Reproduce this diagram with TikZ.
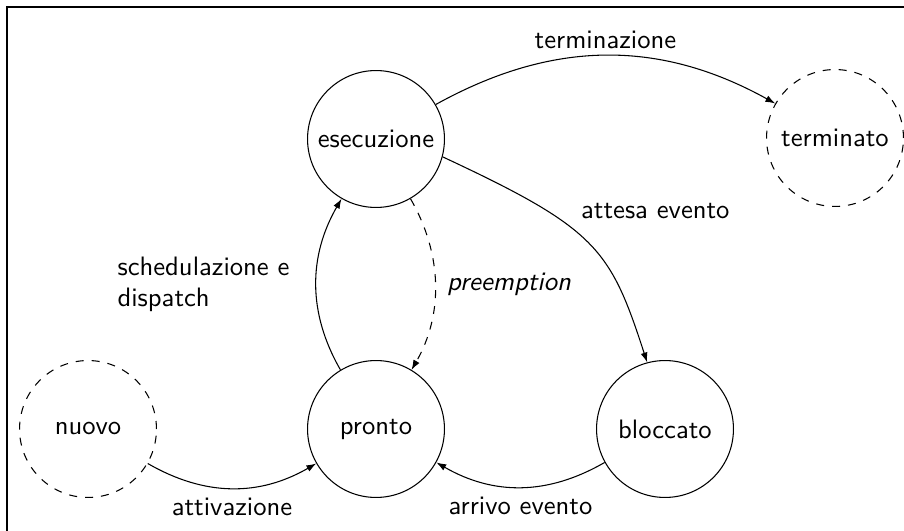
\documentclass[tikz,border=0pt]{standalone}
\usetikzlibrary{arrows.meta}
\begin{document}
\begin{tikzpicture}[x=0.3754pt,y=0.3754pt,font=\sffamily,
  stnode/.style={circle,draw,line width=0.4pt,minimum size=51.4pt,inner sep=0pt},
  ghost/.style={stnode,dashed},
  arr/.style={line width=0.4pt,-{Latex[length=3.7pt,width=2.6pt]}},
  lab/.style={inner sep=3.33pt}]
\useasboundingbox (0,0) rectangle (904,-531);
\coordinate (fa) at (7,-531);
\coordinate (fb) at (7,-7);
\coordinate (fc) at (904,-7);
\draw[line width=0.8pt] (fa) -- (fb) -- (fc);

\node[stnode] (ese) at (376,-139) {esecuzione};
\node[stnode] (pro) at (376,-429) {pronto};
\node[ghost]  (nuo) at (88,-429)  {nuovo};
\node[ghost]  (ter) at (835,-138) {terminato};
\node[stnode] (blo) at (665,-429) {bloccato};

\draw[arr] (nuo.-30) .. controls +(-30:66) and +(210:66) .. (pro.210)
  node[lab,midway,below] (l1) {attivazione};
\draw[arr] (pro.121) .. controls +(120:66) and +(240:66) .. (ese.240)
  node[lab,midway,left=6.5pt,align=left,font=\sffamily\fontsize{10}{11.3}\selectfont] (l2) {schedulazione e\\dispatch};
\draw[arr,dashed] (ese.-60) .. controls +(-60:64) and +(60:64) .. (pro.59)
  node[lab,midway,right=1pt,font=\sffamily\itshape] (l3) {preemption};
\draw[arr] (ese.30) .. controls +(29:133) and +(151:133) .. (ter.150)
  node[lab,midway,above=-1pt] (l4) {terminazione};
\draw[arr] (ese.-15) .. controls +(-25:170) and +(108:120) .. (blo.105)
  node[lab,pos=0.3,right=9pt] (l5) {attesa evento};
\draw[arr] (blo.209.5) .. controls +(210:66) and +(-30:66) .. (pro.-29)
  node[lab,midway,below] (l6) {arrivo evento};
\end{tikzpicture}
\end{document}
